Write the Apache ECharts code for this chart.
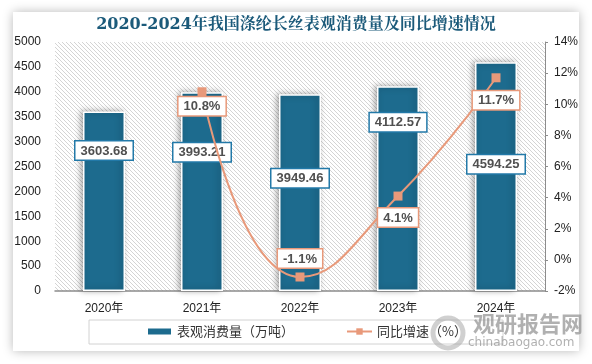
<!DOCTYPE html>
<html><head><meta charset="utf-8">
<script src="https://cdn.jsdelivr.net/npm/echarts@6/dist/echarts.min.js"></script>
<style>
html,body{margin:0;padding:0;background:#fff;width:592px;height:364px;overflow:hidden;}
#card{position:absolute;left:13px;top:12px;width:566px;height:339px;background:#fff;box-shadow:0 0 10px rgba(0,0,0,0.28);}
#main{position:absolute;left:0;top:0;width:592px;height:364px;}
</style></head>
<body><div id="card"></div><div id="main"></div>
<script>
const years = ['2020年','2021年','2022年','2023年','2024年'];
const consumption = [3603.68, 3993.21, 3949.46, 4112.57, 4594.25];
const growth = [null, 10.8, -1.1, 4.1, 11.7];
const titleText = '2020-2024年我国涤纶长丝表观消费量及同比增速情况';
const barName = '表观消费量（万吨）';
const lineName = '同比增速（%）';

const barLabelOffsets = [25, 46, 70, 22, 88];
const lineLabelCfg = [null, ['bottom', 1], ['top', 5], ['bottom', 8], ['bottom', 9]];

// hatch pattern
const pc = document.createElement('canvas');
pc.width = 4; pc.height = 4;
const pctx = pc.getContext('2d');
pctx.fillStyle = '#fff'; pctx.fillRect(0,0,4,4);
pctx.fillStyle = '#d4d4d4';
for (let i = 0; i < 4; i++) pctx.fillRect(i, i, 1, 1);

const font = "'Liberation Sans','Noto Sans CJK SC',sans-serif";
const chart = echarts.init(document.getElementById('main'));
chart.setOption({
  animation: false,
  textStyle: {fontFamily: font},
  title: {
    text: titleText, left: 'center', top: 12,
    textStyle: {fontFamily: "'DejaVu Serif','Noto Serif CJK SC','Noto Sans CJK SC',serif", fontSize: 16, fontWeight: 'bold', color: '#1b5a7a'}
  },
  grid: {left: 55, right: 47, top: 42, bottom: 73, show: true, borderWidth: 0,
    backgroundColor: {image: pc, repeat: 'repeat'}},
  legend: {
    bottom: 21, left: 141, itemGap: 52, itemHeight: 8,
    textStyle: {fontSize: 13, color: '#333', fontFamily: "'Noto Sans CJK SC',sans-serif"},
    data: [
      {name: barName, icon: 'rect', itemStyle: {}},
      {name: lineName}
    ]
  },
  graphic: [
    {type: 'rect', shape: {x: 89, y: 320, width: 414, height: 24}, style: {fill: 'none', stroke: '#d2d2d2', lineWidth: 1}, z: -1},
    {type: 'text', left: 473, top: 313, style: {text: '观研报告网', font: "bold 22px 'Noto Sans CJK SC'", fill: 'rgba(150,150,150,0.75)'}},
    {type: 'text', left: 468, top: 337, style: {text: 'chinabaogao.com', font: "12px 'DejaVu Sans'", fill: 'rgba(150,150,150,0.75)'}},
    {type: 'circle', shape: {cx: 448, cy: 333, r: 15}, style: {fill: 'none', stroke: 'rgba(170,170,170,0.55)', lineWidth: 5}}
  ],
  xAxis: {
    type: 'category', data: years,
    axisLine: {lineStyle: {color: '#8c8c8c', width: 1.5}},
    axisTick: {show: false},
    axisLabel: {color: '#222', fontSize: 12, margin: 12}
  },
  yAxis: [
    {type: 'value', min: 0, max: 5000, interval: 500,
     axisLine: {show: false}, axisTick: {show: false}, splitLine: {show: false},
     axisLabel: {color: '#222', fontSize: 12, margin: 14, formatter: v => String(v)}},
    {type: 'value', min: -2, max: 14, interval: 2,
     axisLine: {show: true, lineStyle: {color: '#8c8c8c'}},
     axisTick: {show: true, length: 3, lineStyle: {color: '#8c8c8c'}},
     splitLine: {show: false},
     axisLabel: {color: '#222', fontSize: 12, margin: 9, formatter: v => v + '%'}}
  ],
  series: [
    {name: barName, type: 'bar', barWidth: 42, yAxisIndex: 0,
     itemStyle: {color: '#1d6b8e', borderColor: '#fff', borderWidth: 1.5,
       shadowBlur: 6, shadowColor: 'rgba(0,0,0,0.35)', shadowOffsetX: -2},
     data: consumption.map((v, i) => ({value: v, label: {offset: [0, barLabelOffsets[i]]}})),
     label: {show: true, position: 'insideTop', distance: 5,
       backgroundColor: '#fff', borderColor: '#2279a8', borderWidth: 1.5,
       padding: [3, 5, 2, 5], color: '#505050', fontWeight: 'bold', fontSize: 13,
       formatter: p => p.value.toFixed(2)}
    },
    {name: lineName, type: 'line', yAxisIndex: 1, smooth: 0.5,
     symbol: 'rect', symbolSize: 9,
     lineStyle: {color: '#e8997a', width: 2},
     itemStyle: {color: '#e8997a'},
     data: growth.map((v, i) => lineLabelCfg[i] ? ({value: v, label: {position: lineLabelCfg[i][0], distance: lineLabelCfg[i][1]}}) : v),
     label: {show: true,
       backgroundColor: '#fff', borderColor: '#e8997a', borderWidth: 1.5,
       padding: [3, 5, 2, 5], color: '#505050', fontWeight: 'bold', fontSize: 13,
       formatter: p => p.value.toFixed(1) + '%'}
    }
  ]
});
</script></body></html>
